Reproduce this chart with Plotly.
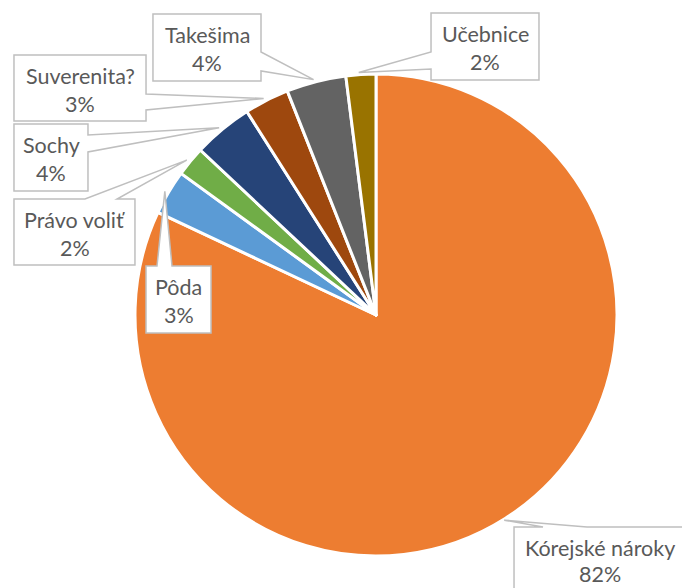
import math
import plotly.graph_objects as go

# Dados
categorias = ["Kórejské nároky", "Pôda", "Právo voliť", "Sochy",
              "Suverenita?", "Takešima", "Učebnice"]
valores = [82, 3, 2, 4, 3, 4, 2]
cores = ["#ED7D31", "#5B9BD5", "#70AD47", "#264478",
         "#9E480E", "#636363", "#997300"]

# Configuração
W, H = 682, 588
CX, CY, R = 376, 315, 241          # centro e raio da pizza (px)
COR_TEXTO = "#595959"
COR_BORDA = "#BFBFBF"
FONTE = "Lato"

# caixas dos rótulos: (esq, topo, dir, base, lado do ponteiro, início, fim)
caixas = {
    "Kórejské nároky": (514, 527, 686, 600, "top", 543, 587),
    "Pôda":            (146, 266, 211, 333, "top", 157, 172),
    "Právo voliť":     (14, 199, 135, 265, "top", 85, 117),
    "Sochy":           (14, 124, 88, 191, "right", 135, 152),
    "Suverenita?":     (14, 55, 146, 121, "right", 94, 110),
    "Takešima":        (153, 14, 261, 81, "right", 52, 71),
    "Učebnice":        (431, 13, 539, 80, "left", 52, 69),
}


def px2paper(x, y):
    return x / W, 1 - y / H


fig = go.Figure(go.Pie(
    labels=categorias,
    values=valores,
    sort=False,
    direction="clockwise",
    rotation=0,
    marker=dict(colors=cores, line=dict(color="white", width=3)),
    textinfo="none",
    hoverinfo="label+percent",
    domain=dict(x=[(CX - R) / W, (CX + R) / W],
                y=[(H - CY - R) / H, (H - CY + R) / H]),
))

total = sum(valores)
acum = 0
shapes, anots = [], []
for cat, v in zip(categorias, valores):
    meio = (acum + v / 2) / total * 2 * math.pi
    acum += v
    tx = CX + 243 * math.sin(meio) - 2
    ty = CY - 243 * math.cos(meio)
    l, t, r, b, lado, a0, a1 = caixas[cat]
    if lado == "top":
        pts = [(l, t), (a0, t), (tx, ty), (a1, t), (r, t), (r, b), (l, b)]
    elif lado == "right":
        pts = [(l, t), (r, t), (r, a0), (tx, ty), (r, a1), (r, b), (l, b)]
    else:
        pts = [(l, t), (r, t), (r, b), (l, b), (l, a1), (tx, ty), (l, a0)]
    path = "M " + " L ".join("%.4f,%.4f" % px2paper(x, y) for x, y in pts) + " Z"
    shapes.append(dict(type="path", xref="paper", yref="paper", path=path,
                       fillcolor="white", line=dict(color=COR_BORDA, width=1.5)))
    xc = (l + r) / 2 if r <= W else (l + W + 4) / 2
    # última caixa encosta na borda inferior: sobe um pouco o percentual
    dy_pct = 49 if b <= H else 47
    for texto, dy in ((cat, 21), (f"{round(v / total * 100)}%", dy_pct)):
        x, y = px2paper(xc, t + dy)
        anots.append(dict(x=x, y=y, xref="paper", yref="paper", text=texto,
                          showarrow=False, xanchor="center", yanchor="middle",
                          font=dict(family=FONTE, size=21.5, color=COR_TEXTO)))

fig.update_layout(
    width=W, height=H,
    margin=dict(l=0, r=0, t=0, b=0),
    paper_bgcolor="white",
    plot_bgcolor="white",
    showlegend=False,
    shapes=shapes,
    annotations=anots,
)

# remove a margem padrão do <body> para alinhar com a janela
fig.write_html("out.html", config={"displayModeBar": False},
               post_script="document.body.style.margin='0';")
